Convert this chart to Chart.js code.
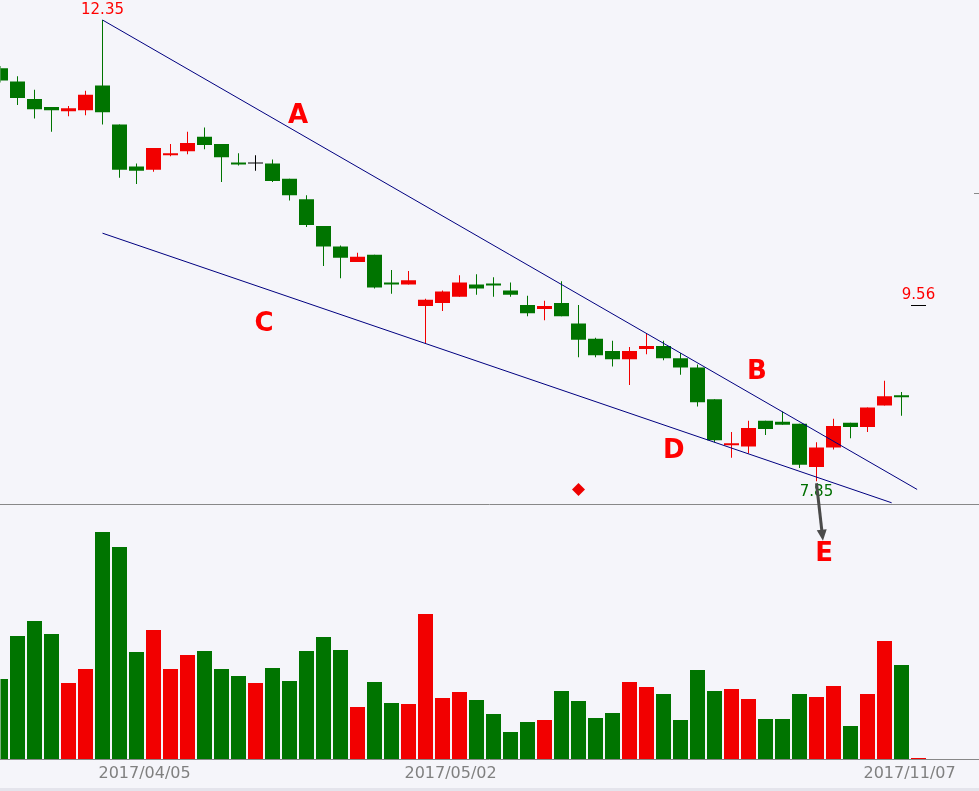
<!DOCTYPE html>
<html>
<head>
<meta charset="utf-8">
<script src="https://cdn.jsdelivr.net/npm/chart.js@4.4.1/dist/chart.umd.min.js"></script>
<style>
  html, body { margin: 0; padding: 0; background: #f5f5fa; }
  #kline { display: block; }
</style>
</head>
<body>
<canvas id="kline" width="979" height="791"></canvas>
<script>
// daily K-line, index 0..54 (index 54 = flat 9.56 placeholder bar)
const opens  = [11.88, 11.75, 11.58, 11.50, 11.46, 11.47, 11.71, 11.33, 10.92, 10.89, 11.03, 11.07, 11.21, 11.14, 10.96, 10.95, 10.95, 10.80, 10.60, 10.34, 10.14, 9.99, 10.06, 9.79, 9.77, 9.56, 9.59, 9.65, 9.77, 9.78, 9.71, 9.57, 9.53, 9.59, 9.39, 9.24, 9.12, 9.04, 9.14, 9.17, 9.05, 8.96, 8.65, 8.20, 8.19, 8.44, 8.43, 8.41, 7.99, 8.18, 8.42, 8.38, 8.59, 8.69, 9.56];
const closes = [11.76, 11.59, 11.48, 11.47, 11.49, 11.62, 11.45, 10.89, 10.88, 11.10, 11.05, 11.15, 11.13, 11.01, 10.94, 10.95, 10.78, 10.64, 10.35, 10.14, 10.03, 10.04, 9.74, 9.77, 9.81, 9.62, 9.70, 9.79, 9.73, 9.76, 9.67, 9.49, 9.56, 9.46, 9.23, 9.08, 9.04, 9.12, 9.17, 9.05, 8.96, 8.62, 8.25, 8.22, 8.37, 8.36, 8.40, 8.01, 8.18, 8.39, 8.38, 8.57, 8.68, 8.67, 9.56];
const highs  = [11.90, 11.80, 11.67, 11.50, 11.51, 11.66, 12.35, 11.33, 10.95, 11.10, 11.14, 11.26, 11.30, 11.14, 11.05, 11.03, 10.99, 10.80, 10.64, 10.34, 10.15, 10.08, 10.06, 9.91, 9.90, 9.63, 9.71, 9.86, 9.87, 9.84, 9.79, 9.66, 9.61, 9.80, 9.57, 9.25, 9.22, 9.16, 9.29, 9.22, 9.10, 8.99, 8.65, 8.33, 8.44, 8.44, 8.53, 8.41, 8.23, 8.46, 8.42, 8.57, 8.83, 8.72, 9.56];
const lows   = [11.74, 11.52, 11.39, 11.26, 11.41, 11.42, 11.33, 10.81, 10.75, 10.87, 11.02, 11.04, 11.09, 10.77, 10.93, 10.88, 10.77, 10.59, 10.33, 9.95, 9.83, 9.99, 9.73, 9.68, 9.77, 9.19, 9.51, 9.65, 9.67, 9.65, 9.65, 9.46, 9.42, 9.46, 9.06, 9.06, 8.97, 8.79, 9.09, 9.03, 8.89, 8.58, 8.23, 8.08, 8.12, 8.30, 8.40, 7.98, 7.85, 8.16, 8.27, 8.33, 8.59, 8.49, 9.56];
const volumes = [80, 123, 138, 125, 76, 90, 227, 212, 107, 129, 90, 104, 108, 90, 83, 76, 91, 78, 108, 122, 109, 52, 77, 56, 55, 145, 61, 67, 59, 45, 27, 37, 39, 68, 58, 41, 46, 77, 72, 65, 39, 89, 68, 70, 60, 40, 40, 65, 62, 73, 33, 65, 118, 94, 1];

// x axis: 58 slots, only three dates shown
const slotCount = 58;
const tickIdx  = [6, 24, 51];
const tickText = ['2017/04/05', '2017/05/02', '2017/11/07'];

// annotations (index, price)
const markerIdx = 34, markerPrice = 7.77;
const trendLines = [
  { from: [6, 12.35], to: [53.92, 7.77] },
  { from: [6, 10.27], to: [52.42, 7.64] }
];
const letters = [
  { t: 'A', idx: 17.5,  price: 11.41 },
  { t: 'B', idx: 44.5,  price: 8.91 },
  { t: 'C', idx: 15.5,  price: 9.38 },
  { t: 'D', idx: 39.6,  price: 8.14 },
  { t: 'E', idx: 48.45, price: 7.14 }
];

const RED = '#f20000', GREEN = '#007400', BLACK = '#000000';
const candleColor = opens.map((o, i) => closes[i] > o ? RED : closes[i] < o ? GREEN : BLACK);
const volColor = volumes.map((v, i) => closes[i] >= opens[i] ? RED : GREEN);
const labels = Array.from({ length: slotCount }, (_, i) => String(i));

const overlay = {
  id: 'overlay',
  beforeDraw(chart) {
    const ctx = chart.ctx;
    ctx.save();
    ctx.fillStyle = '#f5f5fa';
    ctx.fillRect(0, 0, chart.width, chart.height);
    ctx.fillStyle = '#e4e4ec';
    ctx.fillRect(0, 788, chart.width, chart.height - 788);
    ctx.restore();
  },
  afterDatasetsDraw(chart) {
    const { ctx, scales: { x, y } } = chart;
    const px = i => x.getPixelForValue(i);
    const py = p => y.getPixelForValue(p);
    ctx.save();

    // pane separator and volume baseline
    ctx.strokeStyle = '#888888';
    ctx.lineWidth = 1;
    ctx.beginPath();
    ctx.moveTo(0, 504.5); ctx.lineTo(chart.width, 504.5);
    ctx.moveTo(0, chart.chartArea.bottom + 0.5); ctx.lineTo(chart.width, chart.chartArea.bottom + 0.5);
    ctx.moveTo(chart.width - 5, Math.round(py(10.66)) + 0.5); ctx.lineTo(chart.width, Math.round(py(10.66)) + 0.5);
    ctx.stroke();

    // trend lines
    ctx.strokeStyle = '#000080';
    ctx.lineWidth = 1;
    trendLines.forEach(l => {
      ctx.beginPath();
      ctx.moveTo(px(l.from[0]), py(l.from[1]));
      ctx.lineTo(px(l.to[0]), py(l.to[1]));
      ctx.stroke();
    });

    // letters
    ctx.fillStyle = '#ff0000';
    ctx.font = 'bold 26px "DejaVu Sans"';
    ctx.textAlign = 'center';
    ctx.textBaseline = 'middle';
    letters.forEach(l => ctx.fillText(l.t, px(l.idx), py(l.price)));

    // price tags
    ctx.font = '15px "DejaVu Sans"';
    const hi = highs.indexOf(Math.max(...highs));
    const lo = lows.indexOf(Math.min(...lows));
    const last = closes.length - 1;
    ctx.fillStyle = '#ff0000';
    ctx.fillText(highs[hi].toFixed(2), px(hi), py(highs[hi]) - 10);
    ctx.fillText(closes[last].toFixed(2), px(last), py(closes[last]) - 11);
    ctx.fillStyle = '#006f00';
    ctx.fillText(lows[lo].toFixed(2), px(lo), py(lows[lo]) + 11);

    // arrow from the low down to E
    const ax0 = px(lo), ay0 = py(lows[lo]) + 2;
    const ax1 = px(48.38), ay1 = py(7.27);
    const ang = Math.atan2(ay1 - ay0, ax1 - ax0);
    ctx.strokeStyle = '#4a4a4a';
    ctx.fillStyle = '#4a4a4a';
    ctx.lineWidth = 3;
    ctx.beginPath();
    ctx.moveTo(ax0, ay0);
    ctx.lineTo(ax1 - 8 * Math.cos(ang), ay1 - 8 * Math.sin(ang));
    ctx.stroke();
    ctx.beginPath();
    ctx.moveTo(ax1, ay1);
    ctx.lineTo(ax1 - 11 * Math.cos(ang) + 5 * Math.sin(ang), ay1 - 11 * Math.sin(ang) - 5 * Math.cos(ang));
    ctx.lineTo(ax1 - 11 * Math.cos(ang) - 5 * Math.sin(ang), ay1 - 11 * Math.sin(ang) + 5 * Math.cos(ang));
    ctx.closePath();
    ctx.fill();
    ctx.restore();
  }
};

const barCommon = { grouped: false, inflateAmount: 0, borderWidth: 0 };

new Chart(document.getElementById('kline'), {
  type: 'bar',
  data: {
    labels: labels,
    datasets: [
      {
        ...barCommon,
        label: 'wick',
        data: lows.map((l, i) => [l, highs[i]]),
        backgroundColor: candleColor,
        barThickness: 1,
        yAxisID: 'y'
      },
      {
        ...barCommon,
        label: 'body',
        data: opens.map((o, i) => [o, closes[i]]),
        backgroundColor: candleColor,
        barThickness: 15,
        minBarLength: 1,
        yAxisID: 'y'
      },
      {
        ...barCommon,
        label: 'volume',
        data: volumes,
        backgroundColor: volColor,
        barThickness: 15,
        yAxisID: 'yv'
      },
      {
        type: 'line',
        label: 'marker',
        data: opens.map((o, i) => i === markerIdx ? markerPrice : null),
        showLine: false,
        pointStyle: 'rectRot',
        pointRadius: 6.5,
        pointBackgroundColor: '#ee0000',
        pointBorderWidth: 0,
        yAxisID: 'y'
      }
    ]
  },
  options: {
    responsive: false,
    animation: false,
    devicePixelRatio: 1,
    layout: { autoPadding: false, padding: { left: 0.5, right: 9.5, top: 0, bottom: 0 } },
    plugins: { legend: { display: false }, tooltip: { enabled: false } },
    scales: {
      x: {
        offset: false,
        grid: { display: false, drawTicks: true, tickLength: 5 },
        border: { display: false },
        afterFit: s => { s.height = 32; },
        ticks: {
          autoSkip: false,
          maxRotation: 0,
          align: 'start',
          labelOffset: -4,
          padding: 0,
          color: '#808080',
          font: { family: 'DejaVu Sans', size: 16 },
          callback: (v, i) => {
            const k = tickIdx.indexOf(i);
            return k >= 0 ? tickText[k] : '';
          }
        }
      },
      y: { display: false, min: 5.1402, max: 12.5451 },
      yv: { display: false, min: 0, max: 759 }
    }
  },
  plugins: [overlay]
});
</script>
</body>
</html>
